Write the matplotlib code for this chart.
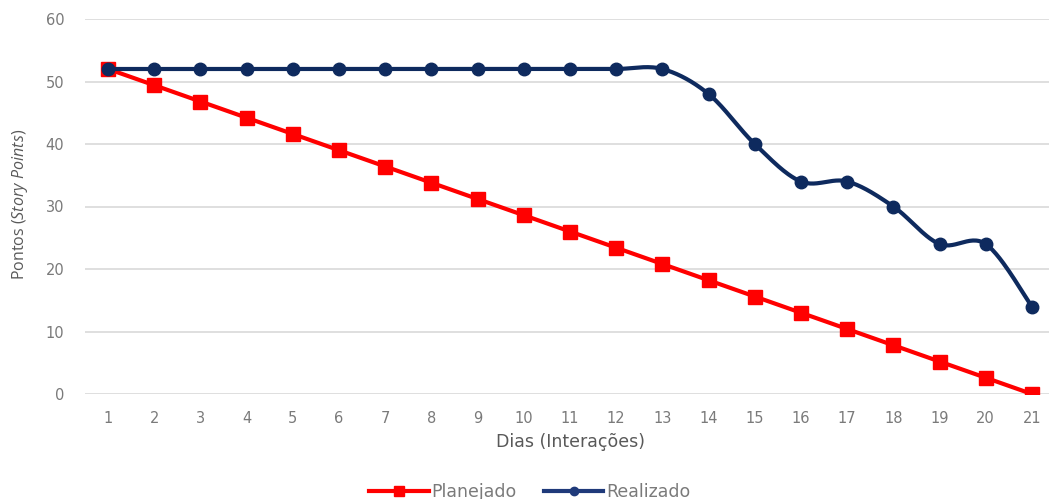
import numpy as np
import matplotlib
matplotlib.use("Agg")
import matplotlib.pyplot as plt
from matplotlib.lines import Line2D

plt.rcParams["font.family"] = ["DejaVu Sans"]
plt.rcParams["mathtext.fontset"] = "custom"
plt.rcParams["mathtext.rm"] = "Open Sans"
plt.rcParams["mathtext.it"] = "Open Sans:italic"

dias = list(range(1, 22))
planejado = [52, 49.4, 46.8, 44.2, 41.6, 39, 36.4, 33.8, 31.2, 28.6, 26,
             23.4, 20.8, 18.2, 15.6, 13, 10.4, 7.8, 5.2, 2.6, 0]
realizado = [52, 52, 52, 52, 52, 52, 52, 52, 52, 52, 52,
             52, 52, 48, 40, 34, 34, 30, 24, 24, 14]

RED = "#FF0000"
NAVY = "#0E2A5E"
TXT = "#595959"
TICK = "#7A7A7A"
GRID = "#D9D9D9"


def smooth(x, y, n=30):
    """Bezier smoothing through every point (same idea as a 'smoothed line' series)."""
    p = np.column_stack([x, y]).astype(float)
    pts = np.vstack([p[0], p, p[-1]])
    out = []
    t = np.linspace(0, 1, n)[:, None]
    for i in range(1, len(pts) - 2):
        p0, p1 = pts[i], pts[i + 1]
        c1 = p0 + (pts[i + 1] - pts[i - 1]) / 6
        c2 = p1 - (pts[i + 2] - pts[i]) / 6
        seg = ((1 - t) ** 3) * p0 + 3 * ((1 - t) ** 2) * t * c1 \
            + 3 * (1 - t) * t ** 2 * c2 + t ** 3 * p1
        out.append(seg if i == 1 else seg[1:])
    s = np.vstack(out)
    return s[:, 0], s[:, 1]


fig = plt.figure(figsize=(10.49, 4.99), dpi=100, facecolor="white")
ax = fig.add_axes([85 / 1049, 105 / 499, 970 / 1049, 375 / 499])

ax.plot(dias, planejado, color=RED, linewidth=3, marker="s", markersize=10.5, zorder=3)
sx, sy = smooth(dias, realizado)
ax.plot(sx, sy, color=NAVY, linewidth=3, zorder=4)
ax.plot(dias, realizado, color=NAVY, linewidth=0, marker="o", markersize=9, zorder=4)

ax.set_xlim(0.5, 21.5)
ax.set_ylim(0, 60)
ax.set_xticks(dias)
ax.set_yticks(range(0, 61, 10))
ax.grid(axis="y", color=GRID, linewidth=1.2)
ax.set_axisbelow(True)
for s in ax.spines.values():
    s.set_visible(False)
ax.tick_params(length=0, labelcolor=TICK, labelsize=10.5)
ax.tick_params(axis="x", pad=12)
ax.tick_params(axis="y", pad=15)

ax.set_xlabel("Dias (Interações)", color=TXT, fontsize=12.5, labelpad=5)
fig.text(20 / 1049, 0.59, r"Pontos ($\mathit{Story\ Points}$)", rotation=90,
         ha="center", va="center", color=TXT, fontsize=11.5,
         family=["Open Sans", "DejaVu Sans"])

handles = [
    Line2D([], [], color=RED, linewidth=3, marker="s", markersize=7),
    Line2D([], [], color="#1F3A7A", linewidth=3, marker="o", markersize=6),
]
leg = fig.legend(handles, ["Planejado", "Realizado"], loc="center",
                 bbox_to_anchor=(0.505, 0.014), ncol=2, frameon=False,
                 fontsize=12.5, handlelength=3.4, handletextpad=0.15, columnspacing=1.6)
for t in leg.get_texts():
    t.set_color(TICK)

fig.savefig("out.png", dpi=100, facecolor="white")
